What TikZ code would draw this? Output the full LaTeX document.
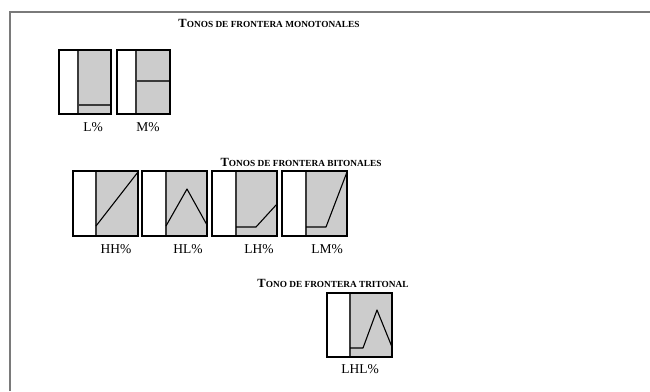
\documentclass[tikz,border=0pt]{standalone}
\usepackage{fontspec}
\setmainfont{Liberation Serif}
\definecolor{boxgray}{HTML}{CCCCCC}
\definecolor{framegray}{HTML}{7A7A7A}
\definecolor{divgray}{HTML}{3A3A3A}
\newcommand{\tbtitle}[2]{\textbf{{\fontsize{12.5}{12.5}\selectfont #1}{\fontsize{9.3}{9.3}\selectfont #2}}}
\tikzset{
  tlabel/.style={font=\fontsize{13.5}{13.5}\selectfont, inner sep=0pt, anchor=center},
  ttitle/.style={inner sep=0pt, anchor=center},
  contour/.style={line width=1.1pt, black, line join=round},
  divline/.style={line width=1.3pt, divgray},
  boxline/.style={line width=2.2pt, black},
  frameline/.style={line width=2.2pt, framegray}
}
% \tonebox{name}{x0}{y0}{x1}{y1}{divider x}
\newcommand{\tonebox}[6]{%
  \fill[white] (#2,#3) rectangle (#6,#5);
  \fill[boxgray] (#6,#3) rectangle (#4,#5);
  \draw[divline] (#6,#3) -- (#6,#5);
  \coordinate (#1-nw) at (#2,#3);
  \coordinate (#1-se) at (#4,#5);
}
\newcommand{\boxborder}[1]{\draw[boxline] (#1-nw) rectangle (#1-se);}
\begin{document}
\begin{tikzpicture}[x=1pt,y=-1pt]
\useasboundingbox (0,0) rectangle (650,391);
\fill[white] (0,0) rectangle (650,391);
\coordinate (fr-a) at (10,12);
\coordinate (fr-b) at (650,12);
\coordinate (fr-c) at (10,391);
\draw[frameline] (fr-c) -- (fr-a) -- (fr-b);

% titles
\node[ttitle] (t1) at (269,23) {\tbtitle{T}{ONOS DE FRONTERA MONOTONALES}};
\node[ttitle] (t2) at (301,162) {\tbtitle{T}{ONOS DE FRONTERA BITONALES}};
\node[ttitle] (t3) at (333,283) {\tbtitle{T}{ONO DE FRONTERA TRITONAL}};

% L%
\tonebox{bL}{59}{50}{111}{114}{78}
\draw[divline] (78,105) -- (111,105);
\boxborder{bL}
\node[tlabel] (lL) at (93,127) {L\%};

% M%
\tonebox{bM}{117}{50}{170}{114}{136}
\draw[divline] (136,81) -- (170,81);
\boxborder{bM}
\node[tlabel] (lM) at (148,127) {M\%};

% HH%
\tonebox{bHH}{73}{171}{138}{236}{96}
\draw[contour] (96,226) -- (138,172);
\boxborder{bHH}
\node[tlabel] (lHH) at (116,249) {HH\%};

% HL%
\tonebox{bHL}{142}{171}{207}{236}{166}
\draw[contour] (166,226) -- (187,189) -- (207,225);
\boxborder{bHL}
\node[tlabel] (lHL) at (188,249) {HL\%};

% LH%
\tonebox{bLH}{212}{171}{277}{236}{236}
\draw[contour] (236,227) -- (256,227) -- (277,204);
\boxborder{bLH}
\node[tlabel] (lLH) at (259,249) {LH\%};

% LM%
\tonebox{bLM}{282}{171}{347}{236}{306}
\draw[contour] (306,227) -- (326,227) -- (347,172);
\boxborder{bLM}
\node[tlabel] (lLM) at (327,249) {LM\%};

% LHL%
\tonebox{bLHL}{327}{293}{392}{357}{350}
\draw[contour] (350,348) -- (363,348) -- (377,310) -- (392,347);
\boxborder{bLHL}
\node[tlabel] (lLHL) at (360,369) {LHL\%};
\end{tikzpicture}
\end{document}
